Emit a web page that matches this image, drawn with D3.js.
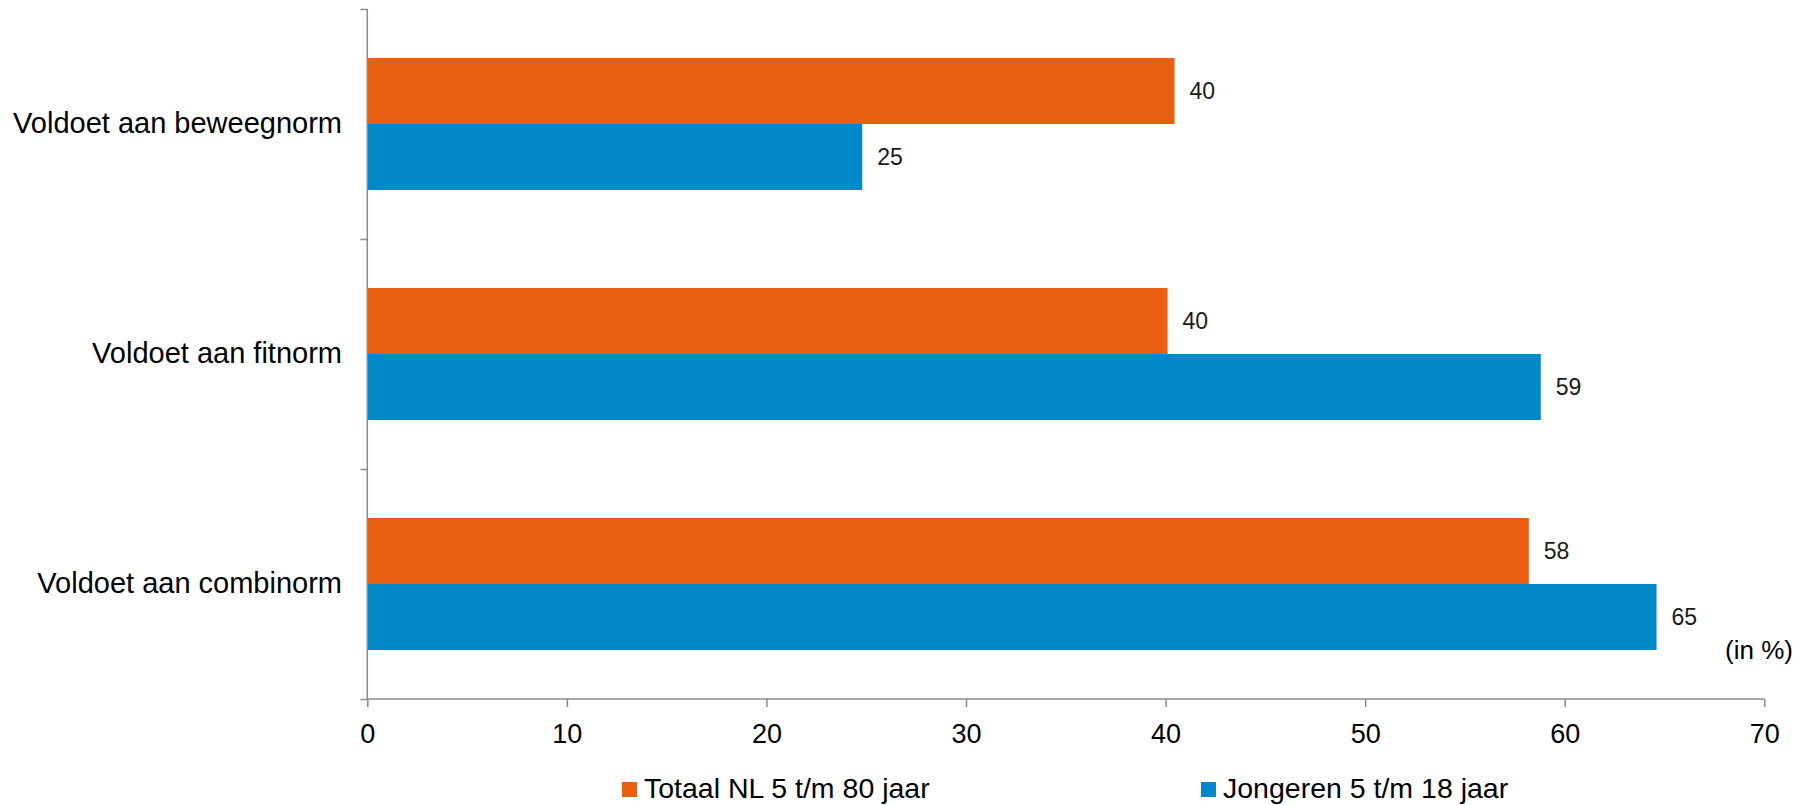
<!DOCTYPE html>
<html>
<head>
<meta charset="utf-8">
<script src="https://cdn.jsdelivr.net/npm/d3@7"></script>
<style>
  html, body { margin: 0; padding: 0; background: #fff; }
  svg { display: block; font-family: "Liberation Sans", Arial, sans-serif; }
</style>
</head>
<body>
<svg id="chart" width="1808" height="805"></svg>
<script>
const categories = ["Voldoet aan beweegnorm", "Voldoet aan fitnorm", "Voldoet aan combinorm"];
const seriesNames = ["Totaal NL 5 t/m 80 jaar", "Jongeren 5 t/m 18 jaar"];
const totaalValues = [40.45, 40.1, 58.2];
const jongerenValues = [24.8, 58.8, 64.6];
const xTicks = [0, 10, 20, 30, 40, 50, 60, 70];
const unitLabel = "(in %)";
const colors = ["#E95E10", "#0088C9"];

const series = [totaalValues, jongerenValues];
const svg = d3.select("#chart");
const axisColor = "#8a8a8a";

const x = d3.scaleLinear().domain([0, 70]).range([367.3, 1764.3]);
const y = d3.scaleBand().domain(categories).range([9, 699]).paddingInner(0.426).paddingOuter(0.213);
const ySub = d3.scaleBand().domain([0, 1]).range([0, y.bandwidth()]);
const yEdges = d3.scaleLinear().domain([0, categories.length]).range([9, 699]);

// Bars
categories.forEach((cat, ci) => {
  series.forEach((vals, si) => {
    const yy = y(cat) + ySub(si);
    svg.append("rect")
      .attr("x", x(0))
      .attr("y", yy)
      .attr("width", x(vals[ci]) - x(0))
      .attr("height", ySub.bandwidth())
      .attr("fill", colors[si]);
    svg.append("text")
      .attr("x", x(vals[ci]) + 15)
      .attr("y", yy + ySub.bandwidth() / 2)
      .attr("dy", "0.36em")
      .attr("font-size", 23)
      .attr("fill", "#1a1a1a")
      .text(Math.round(vals[ci]));
  });
});

// Y axis (tick marks at category boundaries)
const yAxis = svg.append("g")
  .attr("transform", `translate(${x(0)},0)`)
  .call(d3.axisLeft(yEdges).tickValues(d3.range(categories.length + 1)).tickSize(7).tickFormat(""));
yAxis.select(".domain").attr("stroke", axisColor).attr("stroke-width", 1.5).attr("d", `M0,${yEdges(0)}V${yEdges(3)}`);
yAxis.selectAll(".tick line").attr("stroke", axisColor).attr("stroke-width", 1.5);

// Category labels
svg.append("g").selectAll("text")
  .data(categories)
  .join("text")
  .attr("x", 342)
  .attr("y", d => y(d) + y.bandwidth() / 2)
  .attr("dy", "0.32em")
  .attr("text-anchor", "end")
  .attr("font-size", 29)
  .attr("fill", "#000")
  .text(d => d);

// X axis
const xAxis = svg.append("g")
  .attr("transform", `translate(0,${yEdges(3)})`)
  .call(d3.axisBottom(x).tickValues(xTicks).tickSize(8).tickPadding(17).tickFormat(d3.format("d")));
xAxis.select(".domain").attr("stroke", axisColor).attr("stroke-width", 1.5).attr("d", `M${x(0)},0H${x(70)}`);
xAxis.selectAll(".tick line").attr("stroke", axisColor).attr("stroke-width", 1.5);
xAxis.selectAll(".tick text").attr("font-size", 27).attr("fill", "#000").attr("font-family", "Liberation Sans, Arial, sans-serif");

// Unit label
svg.append("text")
  .attr("x", 1793)
  .attr("y", 659)
  .attr("text-anchor", "end")
  .attr("font-size", 26)
  .attr("fill", "#000")
  .text(unitLabel);

// Legend
const legendX = [622, 1201];
seriesNames.forEach((name, i) => {
  const g = svg.append("g").attr("transform", `translate(${legendX[i]},0)`);
  g.append("rect").attr("x", 0).attr("y", 782).attr("width", 15).attr("height", 15).attr("fill", colors[i]);
  g.append("text").attr("x", 22).attr("y", 798).attr("font-size", 28.5).attr("fill", "#000").text(name);
});
</script>
</body>
</html>
